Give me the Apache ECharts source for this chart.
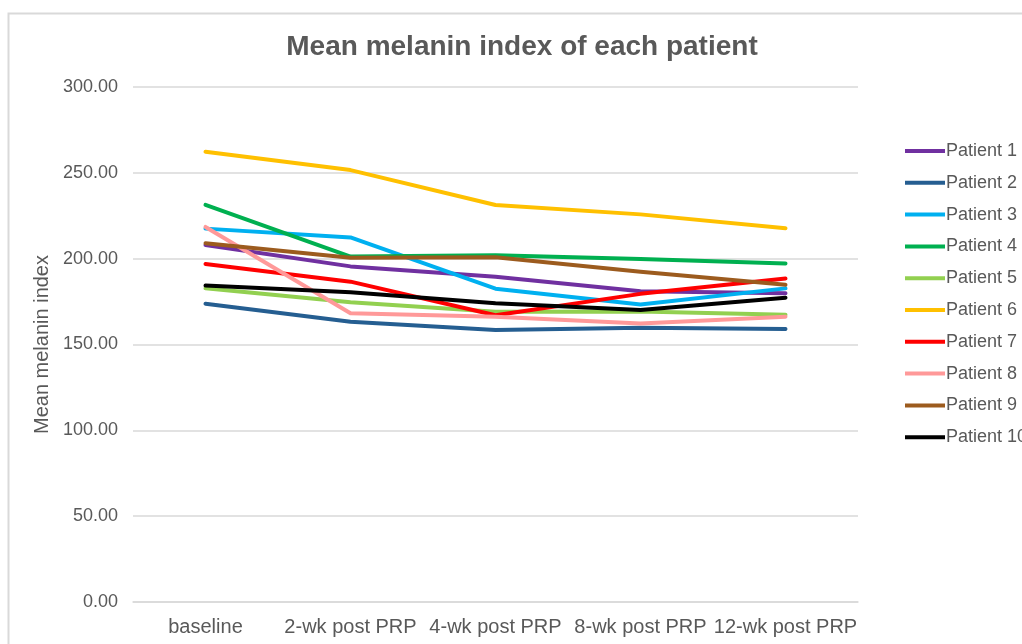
<!DOCTYPE html>
<html>
<head>
<meta charset="utf-8">
<script src="https://cdn.jsdelivr.net/npm/echarts@6/dist/echarts.min.js"></script>
<style>
  html, body { margin: 0; padding: 0; background: #fff; }
  #chart { width: 1022px; height: 644px; }
</style>
</head>
<body>
<div id="chart"></div>
<script>
// Time points of the follow-up
const timepoints = ['baseline', '2-wk post PRP', '4-wk post PRP', '8-wk post PRP', '12-wk post PRP'];

// Mean melanin index per patient at each time point
const patient1  = [208.0, 195.5, 189.5, 181.0, 179.8];
const patient2  = [173.8, 163.3, 158.4, 159.8, 159.0];
const patient3  = [217.5, 212.4, 182.5, 173.3, 182.7];
const patient4  = [231.3, 201.2, 202.0, 199.8, 197.2];
const patient5  = [182.7, 174.6, 169.1, 169.2, 167.4];
const patient6  = [262.3, 251.6, 231.3, 225.8, 217.7];
const patient7  = [196.9, 186.6, 167.0, 179.5, 188.4];
const patient8  = [218.5, 168.2, 166.2, 162.3, 166.2];
const patient9  = [209.0, 200.6, 200.8, 192.4, 184.8];
const patient10 = [184.3, 180.4, 174.0, 170.1, 177.3];

const seriesNames = ['Patient 1', 'Patient 2', 'Patient 3', 'Patient 4', 'Patient 5',
                     'Patient 6', 'Patient 7', 'Patient 8', 'Patient 9', 'Patient 10'];
const seriesValues = [patient1, patient2, patient3, patient4, patient5,
                      patient6, patient7, patient8, patient9, patient10];
const seriesColors = ['#7030A0', '#255E91', '#00B0F0', '#00B050', '#92D050',
                      '#FFC000', '#FF0000', '#FF9999', '#9C5B1E', '#000000'];

// Y axis ticks
const yMin = 0, yMax = 300, yStep = 50;

const textColor = '#595959';
const font = 'Liberation Sans, Arial, sans-serif';

const chart = echarts.init(document.getElementById('chart'), null, { renderer: 'canvas' });

chart.setOption({
  backgroundColor: '#ffffff',
  animation: false,
  graphic: [{
    type: 'rect',
    shape: { x: 8.5, y: 13.5, width: 1100, height: 700 },
    style: { fill: 'none', stroke: '#d9d9d9', lineWidth: 2 },
    z: -10
  }],
  title: {
    text: 'Mean melanin index of each patient',
    left: 517,
    top: 28,
    textAlign: 'center',
    textStyle: { fontFamily: font, fontSize: 28, fontWeight: 'bold', color: textColor }
  },
  legend: {
    orient: 'vertical',
    left: 900,
    top: 137,
    itemWidth: 40,
    itemHeight: 14,
    itemGap: 13.8,
    data: seriesNames.map((n, i) => ({ name: n, icon: 'path://M0,0 L40,0 L40,4 L0,4 Z', itemStyle: { color: seriesColors[i] } })),
    textStyle: { fontFamily: font, fontSize: 18, color: textColor, padding: [0, 0, 0, -4] }
  },
  grid: { left: 133, right: 1022 - 858, top: 87, bottom: 644 - 602 },
  xAxis: {
    type: 'category',
    data: timepoints,
    boundaryGap: true,
    axisLine: { show: true, lineStyle: { color: '#d9d9d9', width: 1.5 } },
    axisTick: { show: false },
    axisLabel: { fontFamily: font, fontSize: 20, color: textColor, margin: 15, interval: 0 }
  },
  yAxis: {
    type: 'value',
    min: yMin, max: yMax, interval: yStep,
    name: 'Mean melanin index',
    nameLocation: 'middle',
    nameGap: 80,
    nameRotate: 90,
    nameTextStyle: { fontFamily: font, fontSize: 20, color: textColor },
    axisLine: { show: false },
    axisTick: { show: false },
    splitLine: { lineStyle: { color: '#d9d9d9', width: 1.5 } },
    axisLabel: {
      fontFamily: font, fontSize: 18, color: textColor, margin: 15,
      formatter: v => v.toFixed(2)
    }
  },
  series: seriesNames.map((n, i) => ({
    name: n,
    type: 'line',
    data: seriesValues[i],
    symbol: 'none',
    smooth: false,
    color: seriesColors[i],
    lineStyle: { width: 4, color: seriesColors[i], cap: 'round', join: 'round' }
  }))
});
</script>
</body>
</html>
